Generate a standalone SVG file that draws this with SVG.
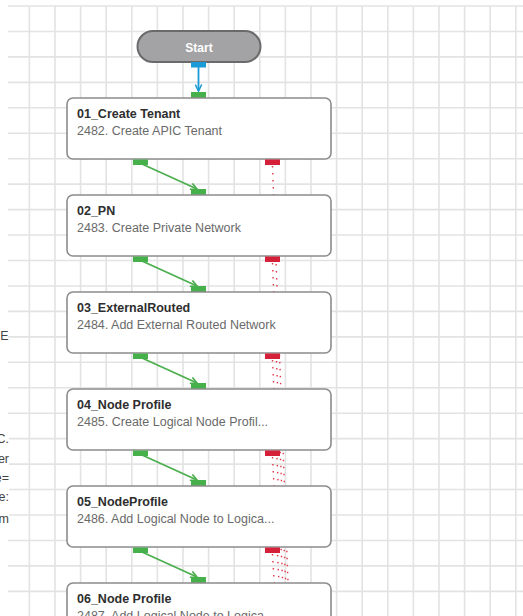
<svg xmlns="http://www.w3.org/2000/svg" width="523" height="616" viewBox="0 0 523 616">
  <style>
    .grid { stroke: #e3e3e3; stroke-width: 1.6; fill: none; }
    .node rect.box { fill: #ffffff; stroke: #8c8c8c; stroke-width: 1.6; }
    .title { font-family: "Liberation Sans", Arial, sans-serif; font-size: 12.5px; font-weight: bold; fill: #2e2e2e; }
    .sub { font-family: "Liberation Sans", Arial, sans-serif; font-size: 12.5px; fill: #6a6a6a; }
    .side { font-family: "Liberation Sans", Arial, sans-serif; font-size: 12.5px; fill: #444444; }
    .ok { stroke: #4cae4f; stroke-width: 1.8; fill: none; }
    .flow { stroke: #1a9ad6; stroke-width: 1.8; fill: none; }
    .fail { stroke: #e0384a; stroke-width: 1.4; fill: none; stroke-dasharray: 1.5 5.5; }
    .pg { fill: #46b04a; }
    .pr { fill: #d5203a; }
    .pb { fill: #1a9ad6; }
  </style>
  <defs>
    <marker id="arrG" viewBox="0 0 8 8" refX="7" refY="4" markerWidth="8" markerHeight="8" markerUnits="userSpaceOnUse" orient="auto">
      <path d="M0.5,0.8 L7,4 L0.5,7.2" fill="none" stroke="#4cae4f" stroke-width="1.6"/>
    </marker>
    <marker id="arrB" viewBox="0 0 8 8" refX="7" refY="4" markerWidth="8" markerHeight="8" markerUnits="userSpaceOnUse" orient="auto">
      <path d="M0.5,0.8 L7,4 L0.5,7.2" fill="none" stroke="#1a9ad6" stroke-width="1.6"/>
    </marker>
  </defs>

  <rect width="523" height="616" fill="#ffffff"/>

  <!-- canvas grid -->
  <path class="grid" d="M29.4 6V616M55 6V616M80.6 6V616M106.2 6V616M131.8 6V616M157.4 6V616M183 6V616M208.6 6V616M234.2 6V616M259.8 6V616M285.4 6V616M311 6V616M336.6 6V616M362.2 6V616M387.8 6V616M413.4 6V616M439 6V616M464.6 6V616M490.2 6V616M515.8 6V616
    M8 6H523M8 31.45H523M8 56.9H523M8 82.35H523M8 107.8H523M8 133.25H523M8 158.7H523M8 184.15H523M8 209.6H523M8 235.05H523M8 260.5H523M8 285.95H523M8 311.4H523M8 336.85H523M8 362.3H523M8 387.75H523M8 413.2H523M8 438.65H523M8 464.1H523M8 489.55H523M8 515H523M8 540.45H523M8 565.9H523M8 591.35H523"/>

  <!-- clipped text of the side panel -->
  <g id="side-panel">
    <rect x="0" y="328" width="8" height="16" fill="#ffffff"/>
    <rect x="0" y="430" width="9" height="98" fill="#ffffff"/>
    <text class="side" x="8.5" y="340" text-anchor="end">E</text>
    <text class="side" x="9" y="443" text-anchor="end">C.</text>
    <text class="side" x="9" y="463" text-anchor="end">er</text>
    <text class="side" x="9" y="482" text-anchor="end">e=</text>
    <text class="side" x="9" y="501" text-anchor="end">e:</text>
    <text class="side" x="9" y="523" text-anchor="end">m</text>
  </g>

  <!-- connectors -->
  <g id="connectors">
    <!-- failure paths -->
    <path class="fail" d="M272.5 166L311 1200"/>
    <path class="fail" d="M272.5 263L311 1200"/>
    <path class="fail" d="M272.5 360L311 1200"/>
    <path class="fail" d="M272.5 457L311 1200"/>
    <path class="fail" d="M272.5 554L311 1200"/>
    <!-- start -->
    <path class="flow" d="M198.5 67V91" marker-end="url(#arrB)"/>
    <!-- success paths -->
    <path class="ok" d="M142 164L197 189" marker-end="url(#arrG)"/>
    <path class="ok" d="M142 261L197 286" marker-end="url(#arrG)"/>
    <path class="ok" d="M142 358L197 383" marker-end="url(#arrG)"/>
    <path class="ok" d="M142 455L197 480" marker-end="url(#arrG)"/>
    <path class="ok" d="M142 552L197 577" marker-end="url(#arrG)"/>
  </g>

  <!-- start node -->
  <g id="start">
    <rect x="137.5" y="31" width="123" height="31" rx="15.5" fill="#a3a3a6" stroke="#6a6a6a" stroke-width="2"/>
    <text x="199" y="51.5" text-anchor="middle" font-family="Liberation Sans, Arial, sans-serif" font-size="12px" font-weight="bold" fill="#ffffff">Start</text>
    <rect class="pb" x="191" y="62" width="15" height="5.5"/>
  </g>

  <g id="n01" class="node">
    <rect class="pg" x="191" y="92" width="15" height="6"/>
    <rect class="box" x="67" y="98" width="264" height="61" rx="6"/>
    <text class="title" x="77" y="118">01_Create Tenant</text>
    <text class="sub" x="77" y="135">2482. Create APIC Tenant</text>
    <rect class="pg" x="133" y="159.5" width="15" height="5.5"/>
    <rect class="pr" x="265" y="159.5" width="15" height="5.5"/>
  </g>

  <g id="n02" class="node">
    <rect class="pg" x="191" y="189" width="15" height="6"/>
    <rect class="box" x="67" y="195" width="264" height="61" rx="6"/>
    <text class="title" x="77" y="215">02_PN</text>
    <text class="sub" x="77" y="232">2483. Create Private Network</text>
    <rect class="pg" x="133" y="256.5" width="15" height="5.5"/>
    <rect class="pr" x="265" y="256.5" width="15" height="5.5"/>
  </g>

  <g id="n03" class="node">
    <rect class="pg" x="191" y="286" width="15" height="6"/>
    <rect class="box" x="67" y="292" width="264" height="61" rx="6"/>
    <text class="title" x="77" y="312">03_ExternalRouted</text>
    <text class="sub" x="77" y="329">2484. Add External Routed Network</text>
    <rect class="pg" x="133" y="353.5" width="15" height="5.5"/>
    <rect class="pr" x="265" y="353.5" width="15" height="5.5"/>
  </g>

  <g id="n04" class="node">
    <rect class="pg" x="191" y="383" width="15" height="6"/>
    <rect class="box" x="67" y="389" width="264" height="61" rx="6"/>
    <text class="title" x="77" y="409">04_Node Profile</text>
    <text class="sub" x="77" y="426">2485. Create Logical Node Profil...</text>
    <rect class="pg" x="133" y="450.5" width="15" height="5.5"/>
    <rect class="pr" x="265" y="450.5" width="15" height="5.5"/>
  </g>

  <g id="n05" class="node">
    <rect class="pg" x="191" y="480" width="15" height="6"/>
    <rect class="box" x="67" y="486" width="264" height="61" rx="6"/>
    <text class="title" x="77" y="506">05_NodeProfile</text>
    <text class="sub" x="77" y="523">2486. Add Logical Node to Logica...</text>
    <rect class="pg" x="133" y="547.5" width="15" height="5.5"/>
    <rect class="pr" x="265" y="547.5" width="15" height="5.5"/>
  </g>

  <g id="n06" class="node">
    <rect class="pg" x="191" y="577" width="15" height="6"/>
    <rect class="box" x="67" y="583" width="264" height="61" rx="6"/>
    <text class="title" x="77" y="603">06_Node Profile</text>
    <text class="sub" x="77" y="620">2487. Add Logical Node to Logica...</text>
  </g>
</svg>
